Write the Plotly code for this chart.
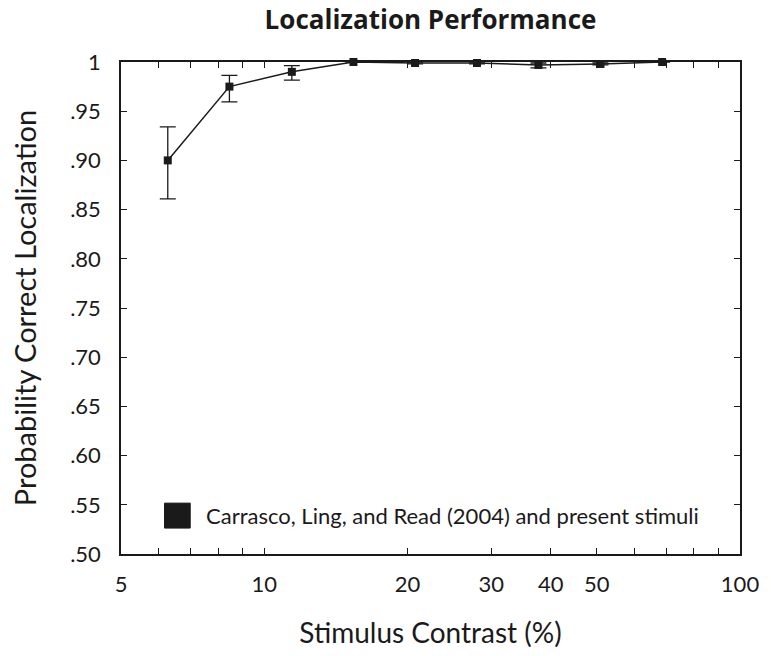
import plotly.graph_objects as go

# Data
contrast = [6.27, 8.45, 11.43, 15.4, 20.75, 28.0, 37.7, 50.9, 68.6]
prob_correct = [0.900, 0.975, 0.990, 1.000, 0.999, 0.999, 0.997, 0.998, 1.000]
err_plus = [0.034, 0.0115, 0.0064, 0.0, 0.001, 0.001, 0.002, 0.001, 0.0]
err_minus = [0.039, 0.0156, 0.0085, 0.0, 0.001, 0.001, 0.003, 0.001, 0.0]

x_tickvals = [5, 6, 7, 8, 9, 10, 20, 30, 40, 50, 60, 70, 80, 90, 100]
x_ticktext = ["5", "", "", "", "", "10", "20", "30", "40", "50", "", "", "", "", "100"]
y_tickvals = [0.50, 0.55, 0.60, 0.65, 0.70, 0.75, 0.80, 0.85, 0.90, 0.95, 1.0]
y_ticktext = [".50", ".55", ".60", ".65", ".70", ".75", ".80", ".85", ".90", ".95", "1"]

legend_label = "Carrasco, Ling, and Read (2004) and present stimuli"

FONT = "Lato"
TITLE_FONT = "Open Sans"
INK = "#1a1a1a"

fig = go.Figure()
fig.add_trace(go.Scatter(
    x=contrast, y=prob_correct,
    mode="lines+markers",
    line=dict(color=INK, width=1.5),
    marker=dict(symbol="square", size=8, color=INK),
    error_y=dict(type="data", array=err_plus, arrayminus=err_minus,
                 color=INK, thickness=1.3, width=8, visible=True),
    showlegend=False,
    cliponaxis=False,
))

fig.update_layout(
    width=771, height=656,
    margin=dict(l=121, r=24, t=62, b=101),
    paper_bgcolor="white", plot_bgcolor="white",
    font=dict(family=FONT, color=INK),
    title=dict(text="<b>Localization Performance</b>", x=0.5, xref="paper",
               y=1 - 20 / 656, yanchor="middle",
               font=dict(family=TITLE_FONT, size=26, color=INK)),
    xaxis=dict(
        type="log", range=[0.69897, 2.0],
        tickmode="array", tickvals=x_tickvals, ticktext=x_ticktext,
        ticks="inside", ticklen=6, tickwidth=1, tickcolor=INK,
        showline=True, linecolor=INK, linewidth=1.5, mirror="ticks",
        showgrid=False, zeroline=False,
        tickfont=dict(family=FONT, size=22, color=INK),
        ticklabelstandoff=10,
        title=dict(text="Stimulus Contrast (%)", standoff=27,
                   font=dict(family=FONT, size=28, color=INK)),
    ),
    yaxis=dict(
        range=[0.5, 1.0],
        tickmode="array", tickvals=y_tickvals, ticktext=y_ticktext,
        ticks="inside", ticklen=6, tickwidth=1, tickcolor=INK,
        showline=True, linecolor=INK, linewidth=1.5, mirror="ticks",
        showgrid=False, zeroline=False,
        tickfont=dict(family=FONT, size=22, color=INK),
        ticklabelstandoff=14,
        title=dict(text="Probability Correct Localization", standoff=25,
                   font=dict(family=FONT, size=29, color=INK)),
    ),
)

# Legend drawn inside the plot (large square key)
fig.add_shape(type="rect", xref="paper", yref="paper",
              x0=0.0703, x1=0.1118, y0=0.0527, y1=0.1034,
              fillcolor=INK, line=dict(color=INK, width=1))
fig.add_annotation(text=legend_label, xref="paper", yref="paper",
                   x=0.1342, y=0.0791, xanchor="left", yanchor="middle",
                   showarrow=False, font=dict(family=FONT, size=22, color=INK))

fig.write_html("out.html")
